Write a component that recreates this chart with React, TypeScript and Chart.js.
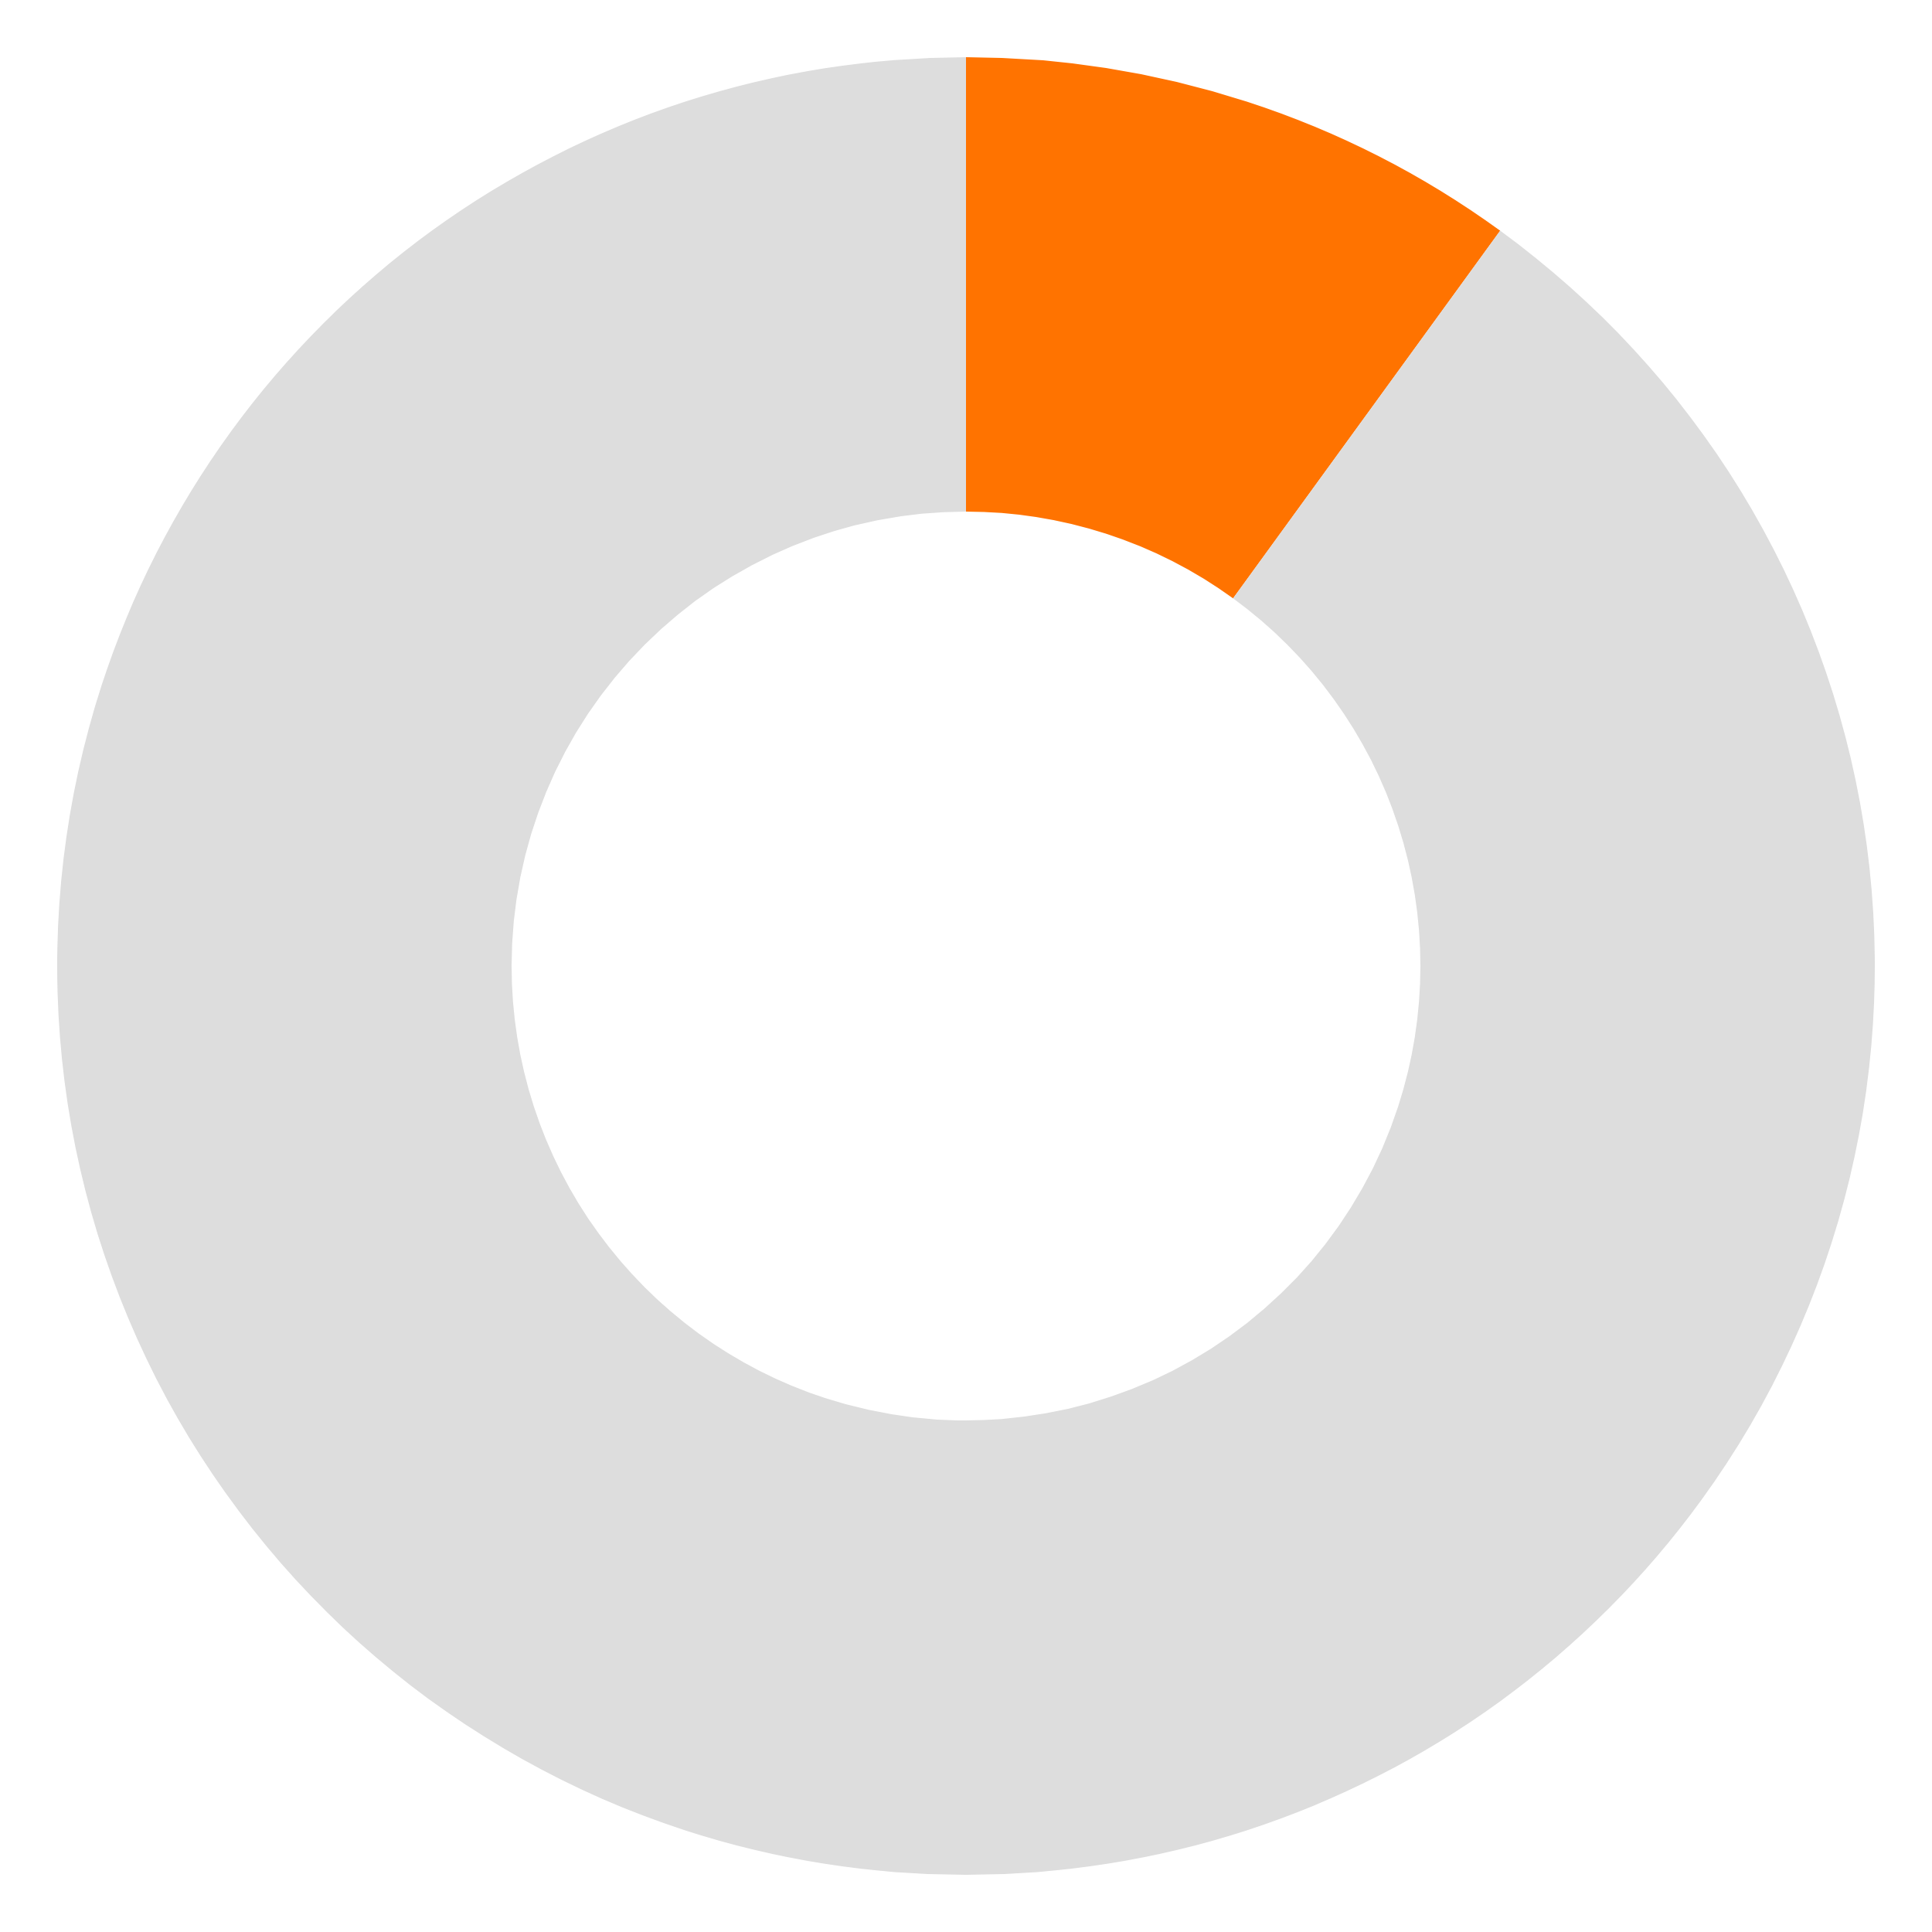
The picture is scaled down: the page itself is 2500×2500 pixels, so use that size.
import React, { useEffect, useRef } from 'react';
import Chart, { ChartConfiguration } from 'chart.js/auto';

const labels = ['Complete', 'Remaining'];
const values = [10, 90];
const colors = ['#ff7300', '#dddddd'];

const App: React.FC = () => {
    const chartRef = useRef<HTMLCanvasElement | null>(null);
    const chartInstance = useRef<Chart<'doughnut'> | null>(null);

    useEffect(() => {
        if (!chartRef.current) return;
        const ctx = chartRef.current.getContext('2d');
        if (!ctx) return;

        if (chartInstance.current) {
            chartInstance.current.destroy();
        }

        const config: ChartConfiguration<'doughnut', number[], string> = {
            type: 'doughnut',
            data: {
                labels,
                datasets: [
                    {
                        data: values,
                        backgroundColor: colors,
                        borderWidth: 0,
                    },
                ],
            },
            options: {
                animation: false,
                responsive: true,
                maintainAspectRatio: true,
                aspectRatio: 1,
                cutout: '50%',
                layout: { padding: 66 },
                plugins: {
                    legend: { display: false },
                    tooltip: { enabled: false },
                },
            },
        };

        chartInstance.current = new Chart(ctx, config);

        return () => {
            if (chartInstance.current) {
                chartInstance.current.destroy();
                chartInstance.current = null;
            }
        };
    }, []);

    return (
        <div style={{ width: '100%' }}>
            <canvas ref={chartRef}></canvas>
        </div>
    );
};

export default App;
